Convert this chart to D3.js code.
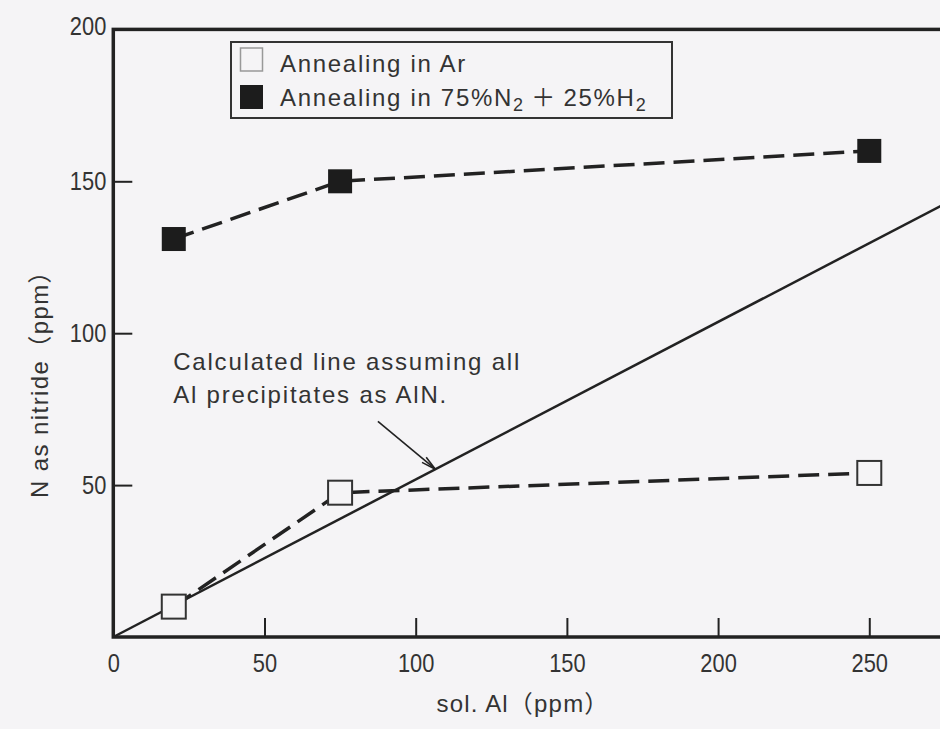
<!DOCTYPE html>
<html>
<head>
<meta charset="utf-8">
<script src="https://cdn.jsdelivr.net/npm/d3@7"></script>
<style>
  html, body { margin: 0; padding: 0; background: #f5f4f6; }
  svg { display: block; }
  text { font-family: "Liberation Sans", Arial, "Noto Sans CJK JP", sans-serif; fill: #333; }
</style>
</head>
<body>
<svg id="chart" width="940" height="729"></svg>
<script>
// sol. Al contents (ppm) used in the experiments
const solAl = [20, 75, 250];
// N present as nitride (ppm) after each annealing atmosphere
const nitrideAr = [10, 47.5, 54];
const nitrideN2H2 = [131, 150, 160];
// axis ticks
const xTicks = [0, 50, 100, 150, 200, 250];
const yTicks = [50, 100, 150, 200];
// stoichiometric ratio N/Al for AlN (14/27)
const ratioNtoAl = 14 / 27;
// annotation of the calculated line
const noteLines = ["Calculated line assuming all", "Al precipitates as AlN."];
const noteAt = { x: 19.8, y: 88 };        // text origin, data units
const arrowTail = { x: 87.5, y: 71 };     // data units
const arrowTipAl = 106.5;                 // arrow points at the line here

(function () {
const svg = d3.select("#chart");
const bg = "#f5f4f6";
const ink = "#222";

const x = d3.scaleLinear().domain([0, 280]).range([113.3, 960]);
const y = d3.scaleLinear().domain([0, 200]).range([637, 29.4]);

// frame
const fLeft = x(0), fRight = x(280), fTop = y(200), fBottom = y(0);
svg.append("rect")
  .attr("x", fLeft).attr("y", fTop)
  .attr("width", fRight - fLeft).attr("height", fBottom - fTop)
  .attr("fill", "none").attr("stroke", ink).attr("stroke-width", 3.5);

// axes with inward ticks
const xAxis = d3.axisBottom(x).tickValues(xTicks).tickSizeInner(-19).tickSizeOuter(0).tickPadding(17).tickFormat(d3.format("d"));
const yAxis = d3.axisLeft(y).tickValues(yTicks).tickSizeInner(-19).tickSizeOuter(0).tickPadding(7).tickFormat(d3.format("d"));

const gx = svg.append("g").attr("transform", `translate(0,${fBottom})`).call(xAxis);
const gy = svg.append("g").attr("transform", `translate(${fLeft},0)`).call(yAxis);
[gx, gy].forEach(g => {
  g.select(".domain").remove();
  g.selectAll(".tick line").attr("stroke", ink).attr("stroke-width", 2);
  g.selectAll(".tick text").attr("fill", "#333").style("font-size", "26px")
    .style("font-family", '"Liberation Sans", Arial, sans-serif')
    .each(function () {
      // narrow numerals
      const w = this.getComputedTextLength();
      d3.select(this).attr("textLength", w * 0.84).attr("lengthAdjust", "spacingAndGlyphs");
    });
});
gx.selectAll(".tick").filter(d => d === 0).select("line").remove();
gy.selectAll(".tick").filter(d => d === 200).select("line").remove();
gy.selectAll(".tick").filter(d => d === 200).select("text").attr("dy", "0.18em");

// calculated stoichiometric line
const calc = d3.line().x(d => x(d)).y(d => y(d * ratioNtoAl));
svg.append("path")
  .datum([0, 280])
  .attr("d", calc)
  .attr("fill", "none").attr("stroke", ink).attr("stroke-width", 2.5);

// dashed series lines
const seriesLine = d3.line().x((d, i) => x(solAl[i])).y(d => y(d));
[nitrideAr, nitrideN2H2].forEach(vals => {
  svg.append("path")
    .datum(vals)
    .attr("d", seriesLine)
    .attr("fill", "none").attr("stroke", ink)
    .attr("stroke-width", 3.5).attr("stroke-dasharray", "21 9");
});

// markers
const size = 24;
svg.append("g").selectAll("rect")
  .data(nitrideAr)
  .join("rect")
  .attr("x", (d, i) => x(solAl[i]) - size / 2)
  .attr("y", d => y(d) - size / 2)
  .attr("width", size).attr("height", size)
  .attr("fill", bg).attr("stroke", "#333").attr("stroke-width", 2);

svg.append("g").selectAll("rect")
  .data(nitrideN2H2)
  .join("rect")
  .attr("x", (d, i) => x(solAl[i]) - size / 2)
  .attr("y", d => y(d) - size / 2)
  .attr("width", size).attr("height", size)
  .attr("fill", "#1c1c1c");

// annotation
const note = svg.append("text")
  .attr("x", x(noteAt.x)).attr("y", y(noteAt.y))
  .style("font-size", "24px").style("letter-spacing", "1.8px");
noteLines.forEach((t, i) => {
  note.append("tspan").attr("x", x(noteAt.x)).attr("dy", i === 0 ? 0 : 33).text(t);
});

// arrow to the calculated line
const tip = [x(arrowTipAl), y(arrowTipAl * ratioNtoAl)];
const tail = [x(arrowTail.x), y(arrowTail.y)];
svg.append("line")
  .attr("x1", tail[0]).attr("y1", tail[1]).attr("x2", tip[0]).attr("y2", tip[1])
  .attr("stroke", ink).attr("stroke-width", 1.6);
const ang = Math.atan2(tip[1] - tail[1], tip[0] - tail[0]);
const headLen = 15, spread = 0.22;
svg.append("path")
  .attr("d", `M${tip[0] - headLen * Math.cos(ang - spread)},${tip[1] - headLen * Math.sin(ang - spread)}L${tip[0]},${tip[1]}L${tip[0] - headLen * Math.cos(ang + spread)},${tip[1] - headLen * Math.sin(ang + spread)}`)
  .attr("fill", "none").attr("stroke", ink).attr("stroke-width", 1.6);

// legend
const lg = svg.append("g");
lg.append("rect").attr("x", 231).attr("y", 42).attr("width", 441).attr("height", 76)
  .attr("fill", "none").attr("stroke", "#333").attr("stroke-width", 2);
lg.append("rect").attr("x", 240.5).attr("y", 48).attr("width", 22).attr("height", 23)
  .attr("fill", bg).attr("stroke", "#999").attr("stroke-width", 1.5);
lg.append("rect").attr("x", 240).attr("y", 85).attr("width", 23).attr("height", 24)
  .attr("fill", "#1c1c1c");
lg.append("text").attr("x", 280).attr("y", 72)
  .style("font-size", "24px").style("letter-spacing", "1.7px")
  .text("Annealing in Ar");
const t2 = lg.append("text").attr("x", 280).attr("y", 106)
  .style("font-size", "24px").style("letter-spacing", "1.7px");
t2.append("tspan").text("Annealing in 75%N");
t2.append("tspan").attr("dy", 5).style("font-size", "18px").text("2");
t2.append("tspan").attr("dy", -5).text("\u2009＋\u200925%H");
t2.append("tspan").attr("dy", 5).style("font-size", "18px").text("2");

// axis titles
svg.append("text")
  .attr("x", 523).attr("y", 712).attr("text-anchor", "middle")
  .style("font-size", "24px").style("letter-spacing", "1.2px")
  .text("sol. Al（ppm）");
svg.append("text")
  .attr("transform", "translate(48,378) rotate(-90)")
  .attr("text-anchor", "middle")
  .style("font-size", "24px").style("letter-spacing", "1.4px")
  .text("N as nitride（ppm）");
})();
</script>
</body>
</html>
